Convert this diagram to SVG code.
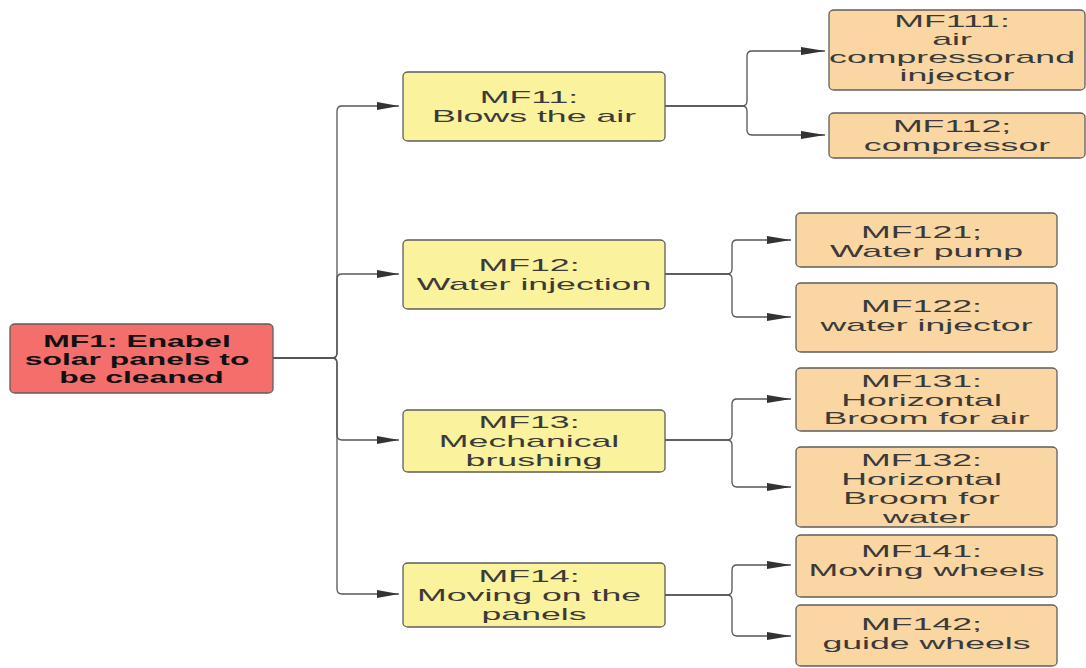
<svg xmlns="http://www.w3.org/2000/svg" width="1086" height="668" viewBox="0 0 1086 668">
  <defs>
    <style>
      .box { stroke: #5e5e5e; stroke-width: 1.3; }
      .root { fill: #f46e6c; }
      .l1 { fill: #fbf29d; }
      .l2 { fill: #f9d6a2; }
      .t { font-family: "Liberation Sans", Arial, sans-serif; font-size: 17px; fill: #3a3a3a; text-anchor: middle; }
      .tb { font-family: "Liberation Sans", Arial, sans-serif; font-size: 16px; font-weight: bold; fill: #111; text-anchor: middle; }
      .wire { fill: none; stroke: #555; stroke-width: 1.3; }
      .w1 { marker-end: url(#arrowA); }
      .w2 { marker-end: url(#arrowB); }
    </style>
    <marker id="arrowA" markerUnits="userSpaceOnUse" viewBox="0 0 22 8" refX="22" refY="4" markerWidth="22" markerHeight="8" orient="auto">
      <path d="M0,0 L22,4 L0,8 Z" fill="#333"/>
    </marker>
    <marker id="arrowB" markerUnits="userSpaceOnUse" viewBox="0 0 24 8" refX="24" refY="4" markerWidth="24" markerHeight="8" orient="auto">
      <path d="M0,0 L24,4 L0,8 Z" fill="#333"/>
    </marker>
  </defs>
  <rect width="1086" height="668" fill="#ffffff"/>

  <!-- connectors: bracket trees with rounded turns -->
  <g id="connectors">
    <!-- MF1 to its four sub-functions -->
    <path class="wire w1" d="M273,358 H332 Q337,358 337,353 V111 Q337,106 342,106 H399"/>
    <path class="wire w1" d="M273,358 H332 Q337,358 337,353 V279 Q337,274 342,274 H399"/>
    <path class="wire w1" d="M273,358 H332 Q337,358 337,363 V435 Q337,440 342,440 H399"/>
    <path class="wire w1" d="M273,358 H332 Q337,358 337,363 V589 Q337,594 342,594 H399"/>
    <!-- MF11 -->
    <path class="wire w2" d="M665,106 H742 Q747,106 747,101 V56 Q747,51 752,51 H825"/>
    <path class="wire w2" d="M665,106 H742 Q747,106 747,111 V130 Q747,135 752,135 H825"/>
    <!-- MF12 -->
    <path class="wire w2" d="M665,274 H727 Q732,274 732,269 V245 Q732,240 737,240 H791"/>
    <path class="wire w2" d="M665,274 H727 Q732,274 732,279 V312 Q732,317 737,317 H791"/>
    <!-- MF13 -->
    <path class="wire w2" d="M665,440 H727 Q732,440 732,435 V404 Q732,399 737,399 H791"/>
    <path class="wire w2" d="M665,440 H727 Q732,440 732,445 V482 Q732,487 737,487 H791"/>
    <!-- MF14 -->
    <path class="wire w2" d="M665,595 H727 Q732,595 732,590 V570 Q732,565 737,565 H791"/>
    <path class="wire w2" d="M665,595 H727 Q732,595 732,600 V631 Q732,636 737,636 H791"/>
  </g>

  <!-- root function -->
  <g id="MF1">
    <rect class="box root" x="10" y="324" width="263" height="69" rx="5" ry="4"/>
    <text class="tb" transform="matrix(1.99,0,0,1,141.5,0)">
      <tspan x="0" y="347">MF1: Enabel</tspan>
      <tspan x="0" y="365">solar panels to</tspan>
      <tspan x="0" y="383">be cleaned</tspan>
    </text>
  </g>

  <!-- first-level functions -->
  <g id="MF11">
    <rect class="box l1" x="403" y="72" width="262" height="69" rx="5" ry="4"/>
    <text class="t" transform="matrix(2.1,0,0,1,534,0)">
      <tspan x="0" y="103">MF11:</tspan>
      <tspan x="0" y="122">Blows the air</tspan>
    </text>
  </g>
  <g id="MF12">
    <rect class="box l1" x="403" y="240" width="262" height="69" rx="5" ry="4"/>
    <text class="t" transform="matrix(2.1,0,0,1,534,0)">
      <tspan x="0" y="271">MF12:</tspan>
      <tspan x="0" y="290">Water injection</tspan>
    </text>
  </g>
  <g id="MF13">
    <rect class="box l1" x="403" y="410" width="262" height="62" rx="5" ry="4"/>
    <text class="t" transform="matrix(2.1,0,0,1,534,0)">
      <tspan x="0" y="428">MF13:</tspan>
      <tspan x="0" y="447">Mechanical</tspan>
      <tspan x="0" y="466">brushing</tspan>
    </text>
  </g>
  <g id="MF14">
    <rect class="box l1" x="403" y="563" width="262" height="64" rx="5" ry="4"/>
    <text class="t" transform="matrix(2.1,0,0,1,534,0)">
      <tspan x="0" y="582">MF14:</tspan>
      <tspan x="0" y="601">Moving on the</tspan>
      <tspan x="0" y="620">panels</tspan>
    </text>
  </g>

  <!-- second-level functions -->
  <g id="MF111">
    <rect class="box l2" x="829" y="10" width="256" height="80" rx="5" ry="4"/>
    <text class="t" transform="matrix(2.1,0,0,1,957,0)">
      <tspan x="0" y="27">MF111:</tspan>
      <tspan x="0" y="45">air</tspan>
      <tspan x="0" y="63">compressorand</tspan>
      <tspan x="0" y="81">injector</tspan>
    </text>
  </g>
  <g id="MF112">
    <rect class="box l2" x="829" y="113" width="256" height="45" rx="5" ry="4"/>
    <text class="t" transform="matrix(2.1,0,0,1,957,0)">
      <tspan x="0" y="132">MF112;</tspan>
      <tspan x="0" y="151">compressor</tspan>
    </text>
  </g>
  <g id="MF121">
    <rect class="box l2" x="796" y="213" width="261" height="54" rx="5" ry="4"/>
    <text class="t" transform="matrix(2.1,0,0,1,926.5,0)">
      <tspan x="0" y="238">MF121;</tspan>
      <tspan x="0" y="257">Water pump</tspan>
    </text>
  </g>
  <g id="MF122">
    <rect class="box l2" x="796" y="283" width="261" height="69" rx="5" ry="4"/>
    <text class="t" transform="matrix(2.1,0,0,1,926.5,0)">
      <tspan x="0" y="312">MF122:</tspan>
      <tspan x="0" y="331">water injector</tspan>
    </text>
  </g>
  <g id="MF131">
    <rect class="box l2" x="796" y="368" width="261" height="63" rx="5" ry="4"/>
    <text class="t" transform="matrix(2.1,0,0,1,926.5,0)">
      <tspan x="0" y="387">MF131:</tspan>
      <tspan x="0" y="406">Horizontal</tspan>
      <tspan x="0" y="424">Broom for air</tspan>
    </text>
  </g>
  <g id="MF132">
    <rect class="box l2" x="796" y="447" width="261" height="80" rx="5" ry="4"/>
    <text class="t" transform="matrix(2.1,0,0,1,926.5,0)">
      <tspan x="0" y="466">MF132:</tspan>
      <tspan x="0" y="485">Horizontal</tspan>
      <tspan x="0" y="504">Broom for</tspan>
      <tspan x="0" y="523">water</tspan>
    </text>
  </g>
  <g id="MF141">
    <rect class="box l2" x="796" y="535" width="261" height="62" rx="5" ry="4"/>
    <text class="t" transform="matrix(2.1,0,0,1,926.5,0)">
      <tspan x="0" y="557">MF141:</tspan>
      <tspan x="0" y="576">Moving wheels</tspan>
    </text>
  </g>
  <g id="MF142">
    <rect class="box l2" x="796" y="605" width="261" height="61" rx="5" ry="4"/>
    <text class="t" transform="matrix(2.1,0,0,1,926.5,0)">
      <tspan x="0" y="630">MF142;</tspan>
      <tspan x="0" y="649">guide wheels</tspan>
    </text>
  </g>
</svg>
